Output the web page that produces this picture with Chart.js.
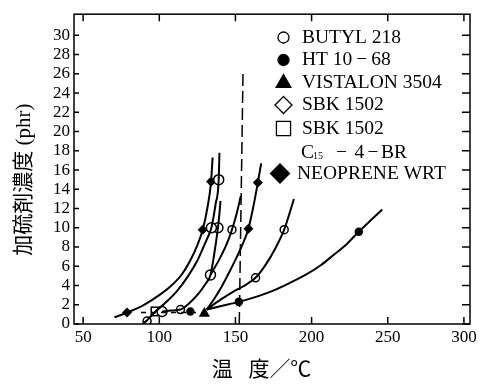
<!DOCTYPE html>
<html>
<head>
<meta charset="utf-8">
<script src="https://cdn.jsdelivr.net/npm/chart.js@4.4.1/dist/chart.umd.min.js"></script>
<style>
html, body { margin: 0; padding: 0; background: #fff; }
#wrap { width: 483px; height: 384px; }
</style>
</head>
<body>
<div id="wrap"><canvas id="myChart"></canvas></div>
<script>
const xTicks = [50, 100, 150, 200, 250, 300]
const yTicks = [0, 2, 4, 6, 8, 10, 12, 14, 16, 18, 20, 22, 24, 26, 28, 30]

// curves, [temperature, phr]
const curveA = [[70.5, 0.7], [79, 1.2], [90, 2.0], [100, 3.0], [108, 4.0], [115, 5.2], [121, 6.8], [125, 8.2], [128.5, 9.8], [131.5, 12], [134, 14.8], [135, 17.3]]
const curveB = [[89, 0], [92, 0.4], [97.5, 1.3], [104, 2.2], [112, 3.5], [119, 5], [125, 6.6], [129, 8], [131.5, 8.9], [134.2, 10], [137, 12.5], [139, 15], [139.5, 17.8]]
const curveC = [[101.8, 1.3], [108, 1.4], [113.9, 1.5], [120, 2.2], [126, 3.2], [130.5, 4.2], [133.6, 5.1], [136, 7.2], [138.5, 10], [139.5, 11.5], [140.2, 12.8]]
const curveD = [[133.6, 5.1], [140, 6.9], [144.5, 8.4], [147.7, 9.8], [151, 11.6], [153.5, 13.3]]
const curveE = [[131.2, 1.5], [136, 2.6], [141, 3.9], [146, 5.4], [151, 7], [155, 8.4], [158.5, 9.9], [161.5, 12], [164.7, 14.7], [166.9, 16.7]]
const curveF = [[131.2, 1.5], [140, 2.5], [150, 3.5], [157, 4.1], [163.2, 4.8], [170, 6.2], [176, 7.8], [182, 9.8], [185.5, 11.5], [188.4, 13]]
const curveG = [[131.2, 1.5], [140, 1.85], [152.2, 2.3], [165, 2.9], [175.2, 3.5], [186, 4.3], [197.1, 5.2], [206, 6.1], [214.6, 7.2], [223, 8.3], [231, 9.6], [239, 10.8], [246.4, 11.9]]
const dashLow = [[88, 1.2], [131, 1.2]]
const dashLimit = [[152.5, 0], [155, 26.4]]

// markers
const openCircles = [[92, 0.3], [113.9, 1.5], [147.7, 9.8], [163.2, 4.8], [182, 9.8]]
const openEllipses = [[101.8, 1.3], [133.6, 5.1], [138.5, 10], [139, 15], [134.2, 10]]
const openSquares = [[97.5, 1.3]]
const smallDiamonds = [[78.8, 1.2], [128.5, 9.8], [134, 14.8], [158.5, 9.9], [164.7, 14.7]]
const dots = [[120.4, 1.3], [152.2, 2.3], [231, 9.6]]
const triangles = [[129.6, 1.1]]

const legendRows = [
  { text: 'BUTYL 218', style: 'circle', fill: false, r: 5.5 },
  { text: 'HT 10\u2009\u2212\u200968', style: 'circle', fill: true, r: 5.5 },
  { text: 'VISTALON 3504', style: 'triangle', fill: true, r: 8.5 },
  { text: 'SBK 1502', style: 'rectRot', fill: false, r: 8.5 },
  { text: 'SBK 1502', style: 'rect', fill: false, r: 10 },
  { text: 'C15', style: null },
  { text: 'NEOPRENE WRT', style: 'rectRot', fill: true, r: 9.5 }
]
const legendY = [37.5, 60, 83, 105, 128.5, 152.5, 173.5]

const serif = '"Liberation Serif", "Noto Sans CJK JP", serif'
const toXY = pts => pts.map(p => ({ x: p[0], y: p[1] }))

function curve(pts, extra) {
  return Object.assign({
    data: toXY(pts), showLine: true, borderColor: '#000', borderWidth: 2,
    pointRadius: 0, fill: false, cubicInterpolationMode: 'monotone'
  }, extra)
}
function marks(pts, style, r, filled) {
  return {
    data: toXY(pts), showLine: false, pointStyle: style, pointRadius: r,
    pointBackgroundColor: filled ? '#000' : '#fff', pointBorderColor: '#000', pointBorderWidth: 1.5
  }
}

const frame = {
  id: 'frame',
  afterDraw(chart) {
    const { ctx, chartArea: a, scales: { x, y } } = chart
    ctx.save()
    ctx.strokeStyle = '#000'
    ctx.lineWidth = 1.5
    ctx.strokeRect(a.left, a.top, a.right - a.left, a.bottom - a.top)
    ctx.beginPath()
    x.ticks.forEach(t => {
      const px = x.getPixelForValue(t.value)
      ctx.moveTo(px, a.bottom); ctx.lineTo(px, a.bottom - 7)
      ctx.moveTo(px, a.top); ctx.lineTo(px, a.top + 7)
    })
    y.ticks.forEach(t => {
      const py = y.getPixelForValue(t.value)
      ctx.moveTo(a.left, py); ctx.lineTo(a.left + 5, py)
      ctx.moveTo(a.right, py); ctx.lineTo(a.right - 8, py)
    })
    ctx.stroke()

    // legend
    ctx.fillStyle = '#000'
    ctx.textBaseline = 'middle'
    ctx.textAlign = 'left'
    legendRows.forEach((row, i) => {
      const yy = legendY[i]
      if (row.style) {
        ctx.fillStyle = row.fill ? '#000' : '#fff'
        ctx.strokeStyle = '#000'
        ctx.lineWidth = 1.3
        Chart.helpers.drawPoint(ctx, { pointStyle: row.style, radius: row.r, rotation: 0, borderWidth: 1.3 }, row.style === 'rectRot' && row.fill ? 280 : 283.5, yy)
      }
      ctx.fillStyle = '#000'
      if (row.text === 'C15') {
        ctx.font = '19.5px ' + serif
        ctx.fillText('C', 301, yy)
        ctx.font = '10px ' + serif
        ctx.fillText('15', 313, yy + 4)
        ctx.font = '19.5px ' + serif
        ctx.fillText('\u2212', 336, yy)
        ctx.fillText('4', 354.5, yy)
        ctx.fillText('\u2212', 367.5, yy)
        ctx.fillText('BR', 381, yy)
      } else {
        ctx.font = '19.5px ' + serif
        ctx.fillText(row.text, i === 6 ? 297 : 302, yy)
      }
    })
    ctx.restore()
  }
}

const myChart = new Chart(document.getElementById('myChart'), {
  type: 'scatter',
  data: {
    datasets: [
      curve(curveA), curve(curveB), curve(curveC), curve(curveD),
      curve(curveE), curve(curveF), curve(curveG),
      curve(dashLow, { borderWidth: 1.5, borderDash: [5, 5], cubicInterpolationMode: 'default', tension: 0 }),
      curve(dashLimit, { borderWidth: 1.5, borderDash: [12, 5], cubicInterpolationMode: 'default', tension: 0 }),
      marks(openCircles, 'circle', 4, false),
      marks(openEllipses, 'circle', 5, false),
      marks(openSquares, 'rect', 6, false),
      marks(smallDiamonds, 'rectRot', 4, true),
      marks(dots, 'circle', 3.5, true),
      marks(triangles, 'triangle', 5, true)
    ]
  },
  options: {
    responsive: true,
    maintainAspectRatio: false,
    animation: false,
    layout: { padding: { top: 8, right: 13, left: 0, bottom: 0 } },
    plugins: { legend: { display: false }, tooltip: { enabled: false } },
    scales: {
      x: {
        type: 'linear', min: 44, max: 304,
        afterBuildTicks: s => { s.ticks = xTicks.map(v => ({ value: v })) },
        afterFit: s => { s.height = 60 },
        grid: { display: false, drawTicks: false },
        border: { display: false },
        ticks: { color: '#000', font: { family: serif, size: 17 }, padding: 3, autoSkip: false, maxRotation: 0 },
        title: { display: true, text: '温   度／℃\u2003', color: '#000', font: { family: serif, size: 21 }, padding: { top: 0, bottom: 1 } }
      },
      y: {
        type: 'linear', min: 0, max: 32.2,
        afterBuildTicks: s => { s.ticks = yTicks.map(v => ({ value: v })) },
        afterFit: s => { s.width = 74 },
        grid: { display: false, drawTicks: false },
        border: { display: false },
        ticks: { color: '#000', font: { family: serif, size: 17 }, padding: 4, autoSkip: false },
        title: { display: true, text: '加硫剤濃度 (phr)\u2003', color: '#000', font: { family: serif, size: 21 }, padding: { top: 12, bottom: 0 } }
      }
    }
  },
  plugins: [frame]
})
</script>
</body>
</html>
